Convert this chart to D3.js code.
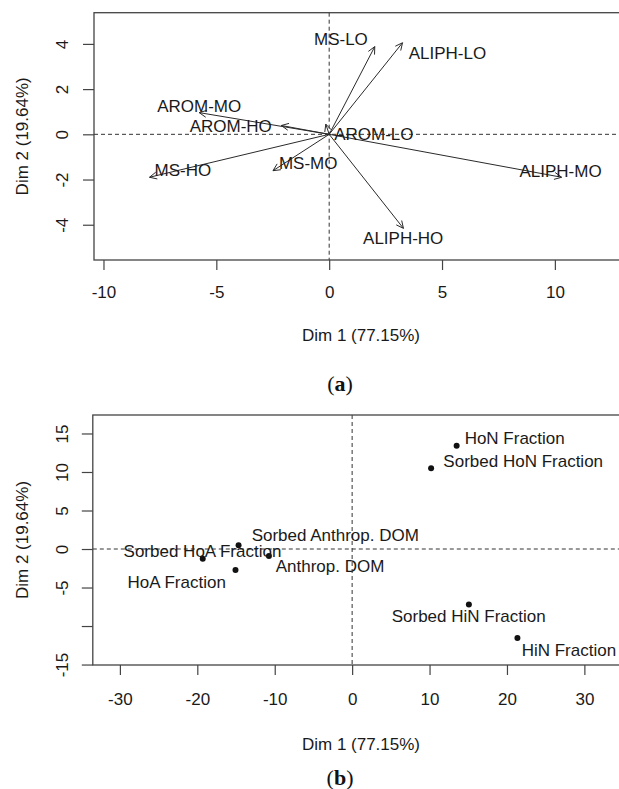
<!DOCTYPE html>
<html>
<head>
<meta charset="utf-8">
<script src="https://cdn.jsdelivr.net/npm/d3@7"></script>
<style>
  body { margin: 0; background: #fff; }
  svg { display: block; font-family: "Liberation Sans", Arial, sans-serif; }
  .lbl { font-size: 17px; fill: #1a1a1a; }
  .tick text { font-size: 17px; fill: #1a1a1a; }
  .tick line { stroke: #444; stroke-width: 1.2; }
</style>
</head>
<body>
<div id="chart"></div>
<script>

// (a) variables factor map
var varNames = ["MS-LO", "ALIPH-LO", "AROM-MO", "AROM-HO", "AROM-LO", "MS-HO", "MS-MO", "ALIPH-MO", "ALIPH-HO"];
var varDim1 = [2.02, 3.25, -5.76, -2.12, -0.15, -7.96, -2.49, 10.3, 3.29];
var varDim2 = [3.88, 4.05, 0.96, 0.39, 0.45, -1.9, -1.61, -1.9, -4.16];
// where the labels sit, in the same dim units
var varLabDim1 = [0.52, 5.24, -5.76, -4.36, 1.98, -6.48, -0.93, 10.25, 3.28];
var varLabDim2 = [4.2, 3.58, 1.25, 0.37, 0.0, -1.58, -1.28, -1.61, -4.6];
var varXTicks = [-10, -5, 0, 5, 10];
var varYTicks = [4, 2, 0, -2, -4];

// (b) individuals factor map
var indNames = ["HoN Fraction", "Sorbed HoN Fraction", "Sorbed Anthrop. DOM", "Sorbed HoA Fraction", "Anthrop. DOM", "HoA Fraction", "Sorbed HiN Fraction", "HiN Fraction"];
var indDim1 = [13.5, 10.2, -14.67, -19.3, -10.75, -15.07, 15.08, 21.35];
var indDim2 = [13.4, 10.5, 0.48, -1.26, -0.91, -2.73, -7.19, -11.56];
var indLabDim1 = [21.0, 22.1, -2.18, -19.33, -2.85, -22.66, 15.06, 28.0];
var indLabDim2 = [14.45, 11.47, 1.82, -0.22, -2.17, -4.24, -8.7, -13.1];
var indXTicks = [-30, -20, -10, 0, 10, 20, 30];
var indYTicks = [15, 10, 5, 0, -5, -10, -15];
var indYTickLabels = ["15", "10", "5", "0", "-5", "", "-15"];

var xTitle = "Dim 1 (77.15%)";
var yTitle = "Dim 2 (19.64%)";

var svg = d3.select("#chart").append("svg")
  .attr("width", 619)
  .attr("height", 789);

// plain hyphen minus, like R prints it
var fmt = d => String(d);

// draws box, dashed zero lines, both axes and titles
function drawFrame(g, x, y, xTicks, yTicks, yLabels, xLabDy, capY) {
  var x0 = x.range()[0], x1 = x.range()[1];
  var yb = y.range()[0], yt = y.range()[1];

  g.append("line")
    .attr("x1", x(0)).attr("x2", x(0))
    .attr("y1", yt).attr("y2", yb)
    .attr("stroke", "#333").attr("stroke-dasharray", "4,3");
  g.append("line")
    .attr("x1", x0).attr("x2", x1)
    .attr("y1", y(0)).attr("y2", y(0))
    .attr("stroke", "#333").attr("stroke-dasharray", "4,3");

  g.append("rect")
    .attr("x", x0).attr("y", yt)
    .attr("width", x1 - x0).attr("height", yb - yt)
    .attr("fill", "none").attr("stroke", "#444").attr("stroke-width", 1.3);

  var xAxis = g.append("g")
    .attr("transform", `translate(0, ${yb})`)
    .call(d3.axisBottom(x).tickValues(xTicks).tickSize(10).tickFormat(fmt));
  xAxis.select(".domain").remove();
  xAxis.selectAll("text")
    .attr("y", xLabDy).attr("dy", "0.35em");

  var yAxis = g.append("g")
    .attr("transform", `translate(${x0}, 0)`)
    .call(d3.axisLeft(y).tickValues(yTicks).tickSize(11)
      .tickFormat((d, i) => yLabels ? yLabels[i] : fmt(d)));
  yAxis.select(".domain").remove();
  yAxis.selectAll("text")
    .attr("transform", "rotate(-90)")
    .attr("x", 0).attr("y", -(x0 - 62))
    .attr("dy", "0.35em")
    .attr("text-anchor", "middle");

  g.append("text")
    .attr("class", "lbl")
    .attr("x", 361).attr("y", capY)
    .attr("text-anchor", "middle").attr("dy", "0.35em")
    .text(xTitle);

  g.append("text")
    .attr("class", "lbl")
    .attr("transform", `translate(22, ${(yt + yb) / 2}) rotate(-90)`)
    .attr("text-anchor", "middle").attr("dy", "0.35em")
    .text(yTitle);
}

// ---------- panel (a) ----------
var xa = d3.scaleLinear().domain([-10.42, 13.24]).range([94, 628]);
var ya = d3.scaleLinear().domain([-5.56, 5.38]).range([260, 12.7]);
var ga = svg.append("g");
drawFrame(ga, xa, ya, varXTicks, varYTicks, null, 32, 335);

var arrows = ga.append("g");
varNames.forEach(function(name, i) {
  var tx = xa(varDim1[i]), ty = ya(varDim2[i]);
  var ox = xa(0), oy = ya(0);
  var ang = Math.atan2(ty - oy, tx - ox);
  var len = 8, spread = Math.PI / 7;
  arrows.append("line")
    .attr("x1", ox).attr("y1", oy)
    .attr("x2", tx).attr("y2", ty)
    .attr("stroke", "#2a2a2a").attr("stroke-width", 1);
  arrows.append("path")
    .attr("d", "M" + (tx - len * Math.cos(ang - spread)) + "," + (ty - len * Math.sin(ang - spread)) +
      "L" + tx + "," + ty +
      "L" + (tx - len * Math.cos(ang + spread)) + "," + (ty - len * Math.sin(ang + spread)))
    .attr("fill", "none").attr("stroke", "#2a2a2a").attr("stroke-width", 1);
});

ga.selectAll(".varlab")
  .data(varNames)
  .enter()
  .append("text")
  .attr("class", "lbl")
  .attr("x", (d, i) => xa(varLabDim1[i]))
  .attr("y", (d, i) => ya(varLabDim2[i]))
  .attr("text-anchor", "middle")
  .attr("dy", "0.35em")
  .text(d => d);

// ---------- panel (b) ----------
var xb = d3.scaleLinear().domain([-33.5, 35.7]).range([92.8, 628.5]);
var yb = d3.scaleLinear().domain([-15.06, 17.4]).range([665, 415]);
var gb = svg.append("g");
drawFrame(gb, xb, yb, indXTicks, indYTicks, indYTickLabels, 34, 744);

gb.selectAll("circle")
  .data(indNames)
  .enter()
  .append("circle")
  .attr("cx", (d, i) => xb(indDim1[i]))
  .attr("cy", (d, i) => yb(indDim2[i]))
  .attr("r", 3)
  .attr("fill", "#111");

gb.selectAll(".indlab")
  .data(indNames)
  .enter()
  .append("text")
  .attr("class", "lbl")
  .attr("x", (d, i) => xb(indLabDim1[i]))
  .attr("y", (d, i) => yb(indLabDim2[i]))
  .attr("text-anchor", "middle")
  .attr("dy", "0.35em")
  .text(d => d);

// sub-figure captions
[["a", 383], ["b", 777]].forEach(function(c) {
  var t = svg.append("text")
    .attr("x", 340).attr("y", c[1])
    .attr("text-anchor", "middle").attr("dy", "0.35em")
    .style("font-family", "'Liberation Serif', 'DejaVu Serif', serif")
    .style("font-size", "22px")
    .attr("fill", "#111");
  t.append("tspan").text("(");
  t.append("tspan").style("font-weight", "bold").text(c[0]);
  t.append("tspan").text(")");
});

</script>
</body>
</html>
